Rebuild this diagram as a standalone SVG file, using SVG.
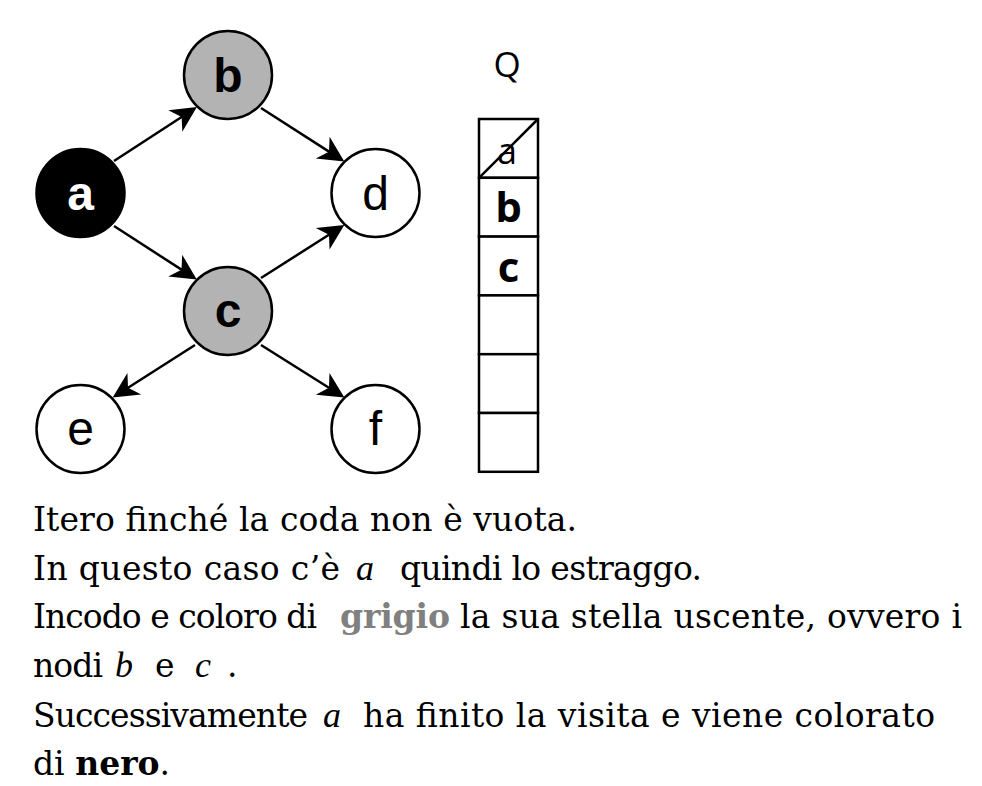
<svg xmlns="http://www.w3.org/2000/svg" width="982" height="786" viewBox="0 0 982 786">
  <style>
    .node { stroke: #000; stroke-width: 2.5; }
    .lbl { font-family: "Liberation Sans", Arial, sans-serif; font-size: 48px; text-anchor: middle; }
    .bold { font-weight: bold; }
    .edge { stroke: #000; stroke-width: 2.5; fill: none; marker-end: url(#arr); }
    .cell { fill: #fff; stroke: #000; stroke-width: 2.5; }
    .q { font-family: "Open Sans", "Noto Sans", sans-serif; text-anchor: middle; }
    .txt { font-family: "DejaVu Serif", serif; font-size: 33px; }
    .math { font-family: "Liberation Serif", serif; font-style: italic; font-size: 36px; }
  </style>
  <defs>
    <marker id="arr" markerUnits="userSpaceOnUse" markerWidth="30" markerHeight="30" viewBox="-12 -14 28 28" refX="0" refY="0" orient="auto" overflow="visible">
      <path d="M14,0 L-10,-12 L-3,0 L-10,12 Z" fill="#000"/>
    </marker>
  </defs>
  <rect width="982" height="786" fill="#fff"/>

  <g id="edges">
    <line class="edge" x1="114" y1="161" x2="184.3" y2="115.2"/>
    <line class="edge" x1="261" y1="108" x2="331.7" y2="153.4"/>
    <line class="edge" x1="114" y1="226" x2="184.2" y2="271.4"/>
    <line class="edge" x1="261" y1="278" x2="331.7" y2="233"/>
    <line class="edge" x1="195" y1="345" x2="125.3" y2="389.5"/>
    <line class="edge" x1="261" y1="345" x2="331.7" y2="389.5"/>
  </g>

  <g id="node-a">
    <circle class="node" cx="80.5" cy="193" r="44" fill="#000"/>
    <text class="lbl bold" x="80.5" y="210" fill="#fff">a</text>
  </g>
  <g id="node-b">
    <circle class="node" cx="228" cy="75" r="44" fill="#b3b3b3"/>
    <text class="lbl bold" x="228" y="92">b</text>
  </g>
  <g id="node-c">
    <circle class="node" cx="228" cy="311" r="44" fill="#b3b3b3"/>
    <text class="lbl bold" x="228" y="327">c</text>
  </g>
  <g id="node-d">
    <circle class="node" cx="375.5" cy="193" r="44" fill="#fff"/>
    <text class="lbl" x="375.5" y="210">d</text>
  </g>
  <g id="node-e">
    <circle class="node" cx="80.5" cy="429" r="44" fill="#fff"/>
    <text class="lbl" x="80.5" y="445">e</text>
  </g>
  <g id="node-f">
    <circle class="node" cx="375.5" cy="429" r="44" fill="#fff"/>
    <text class="lbl" x="375.5" y="445">f</text>
  </g>

  <g id="queue">
    <text class="q" x="507" y="77" font-size="35">Q</text>
    <rect class="cell" x="479" y="119" width="59" height="58.8"/>
    <rect class="cell" x="479" y="177.8" width="59" height="58.8"/>
    <rect class="cell" x="479" y="236.6" width="59" height="58.8"/>
    <rect class="cell" x="479" y="295.4" width="59" height="58.8"/>
    <rect class="cell" x="479" y="354.2" width="59" height="58.8"/>
    <rect class="cell" x="479" y="413" width="59" height="58.8"/>
    <text class="q" x="507" y="164" font-size="36">a</text>
    <line x1="479" y1="177.8" x2="538" y2="119" stroke="#000" stroke-width="2.5"/>
    <text class="q" x="508.5" y="222" font-size="42" font-weight="bold">b</text>
    <text class="q" x="508.5" y="282" font-size="42" font-weight="bold">c</text>
  </g>

  <g id="caption">
    <text class="txt" x="33" y="531" textLength="544">Itero finché la coda non è vuota.</text>

    <text class="txt" x="33" y="580" textLength="307">In questo caso c’è</text>
    <text class="math" x="356" y="580">a</text>
    <text class="txt" x="400" y="580" textLength="302">quindi lo estraggo.</text>

    <text class="txt" x="33" y="628" textLength="284">Incodo e coloro di</text>
    <text class="txt" x="340" y="628" textLength="110" font-weight="bold" style="fill:#808080">grigio</text>
    <text class="txt" x="460" y="628" textLength="502">la sua stella uscente, ovvero i</text>

    <text class="txt" x="33" y="677" textLength="70">nodi</text>
    <text class="math" x="115" y="677">b</text>
    <text class="txt" x="155" y="677">e</text>
    <text class="math" x="195" y="677">c</text>
    <text class="txt" x="227" y="677">.</text>

    <text class="txt" x="33" y="727" textLength="275">Successivamente</text>
    <text class="math" x="323" y="727">a</text>
    <text class="txt" x="363" y="727" textLength="572">ha finito la visita e viene colorato</text>

    <text class="txt" x="33" y="775">di <tspan font-weight="bold">nero</tspan>.</text>
  </g>
</svg>
